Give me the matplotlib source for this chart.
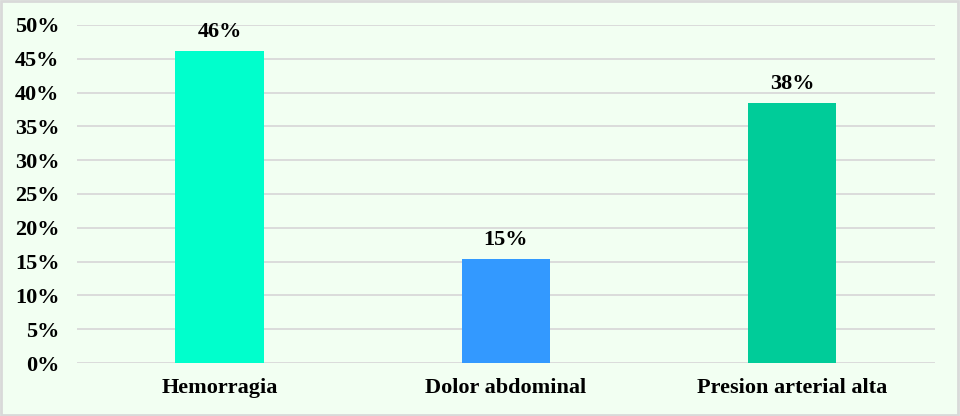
import numpy as np
import matplotlib.pyplot as plt
from matplotlib.ticker import PercentFormatter

categories = ["Hemorragia", "Dolor abdominal", "Presion arterial alta"]
values = [46.15, 15.38, 38.46]
labels = ["46%", "15%", "38%"]
colors = ["#00FFCC", "#3399FF", "#00CC99"]

plt.rcParams['font.family'] = ['Liberation Serif', 'DejaVu Serif']
plt.rcParams['font.weight'] = 'bold'

bg = "#F2FFF2"
fig = plt.figure(figsize=(9.6, 4.16), dpi=100, facecolor=bg)
ax = fig.add_axes([0.080, 0.1274, 0.894, 0.8126])
ax.set_facecolor(bg)

x = np.arange(len(categories))
bars = ax.bar(x, values, width=0.31, color=colors, zorder=3)
for b, lab in zip(bars, labels):
    ax.text(b.get_x() + b.get_width() / 2, b.get_height() + 1.3, lab,
            ha="center", va="bottom", fontsize=16, fontweight="bold")

ax.set_xlim(-0.5, 2.5)
ax.set_ylim(0, 50)
ax.set_yticks(np.arange(0, 51, 5))
ax.yaxis.set_major_formatter(PercentFormatter(decimals=0))
ax.set_xticks(x)
ax.set_xticklabels(categories)
ax.tick_params(axis="both", length=0, labelsize=16)
ax.tick_params(axis="x", pad=10.5)
ax.tick_params(axis="y", pad=12.5)
for t in ax.get_xticklabels() + ax.get_yticklabels():
    t.set_fontweight("bold")

ax.grid(axis="y", color="#D9D9D9", linewidth=1.3, zorder=0)
for s in ax.spines.values():
    s.set_visible(False)

# outer border
fig.patches.append(plt.Rectangle((0.001, 0.002), 0.997, 0.995, transform=fig.transFigure,
                                 fill=False, edgecolor="#D9D9D9", linewidth=2))

fig.savefig("out.png", dpi=100, facecolor=bg)
